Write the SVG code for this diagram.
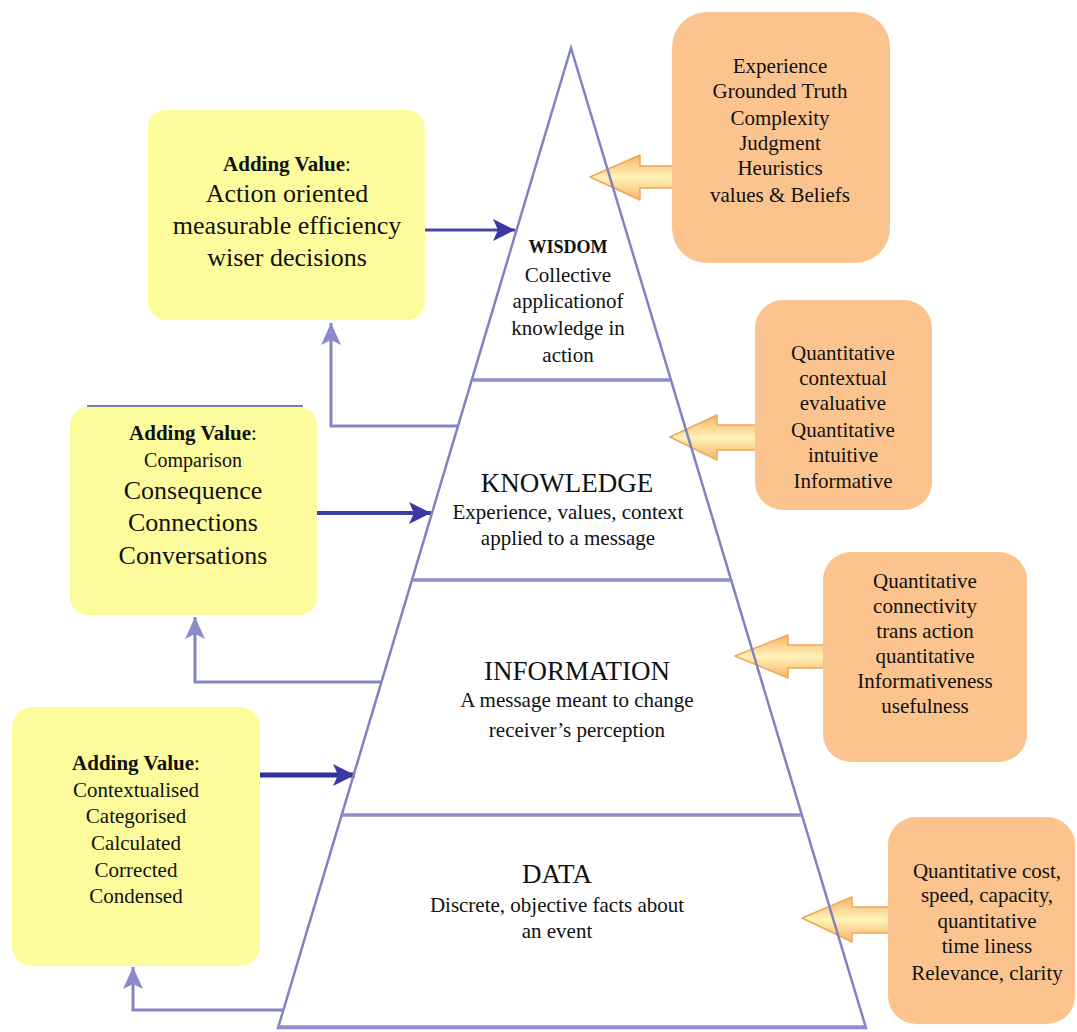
<svg xmlns="http://www.w3.org/2000/svg" width="1077" height="1032" viewBox="0 0 1077 1032">
  <style>
    text { font-family: "Liberation Serif", "Times New Roman", serif; fill: #111; text-anchor: middle; }
    .b { font-weight: bold; }
    .s { font-size: 21px; }
    .l { font-size: 26px; }
    .t { font-size: 27px; }
    .yellow { fill: #fdfc9c; }
    .peach { fill: #fbc48f; }
    .edge { fill: #fff; stroke: #8282c0; stroke-width: 2.5; stroke-linejoin: miter; }
    .tier { stroke: #8e8ecc; stroke-width: 3.5; }
    .fwd { fill: none; }
    .back { fill: none; stroke: #8585c5; stroke-width: 3; }
    .feed { fill: url(#feedFill); stroke: #efa65a; stroke-width: 1.5; stroke-linejoin: round; }
  </style>
  <defs>
    <linearGradient id="feedFill" x1="0" y1="0" x2="0" y2="1">
      <stop offset="0" stop-color="#f7b468"/>
      <stop offset="0.5" stop-color="#fff2b8"/>
      <stop offset="1" stop-color="#f7b468"/>
    </linearGradient>
    <marker id="navyHead" markerUnits="userSpaceOnUse" markerWidth="22" markerHeight="22" refX="22" refY="11" orient="auto">
      <path d="M0,0 L22,11 L0,22 L5,11 z" fill="#3a3aa2"/>
    </marker>
    <marker id="lavHead" markerUnits="userSpaceOnUse" markerWidth="22" markerHeight="20" refX="22" refY="10" orient="auto">
      <path d="M0,0 L22,10 L0,20 L5,10 z" fill="#8a8acc"/>
    </marker>
  </defs>

  <rect width="1077" height="1032" fill="#fff"/>

  <!-- connectors -->
  <g id="connectors">
    <!-- attribute feeds from the right -->
    <polygon class="feed" points="590,177 640,155 640,166 680,166 680,188 640,188 640,200"/>
    <polygon class="feed" points="670,437 717,415 717,425 762,425 762,450 717,450 717,460"/>
    <polygon class="feed" points="735,656 788,635 788,645 830,645 830,668 788,668 788,678"/>
    <polygon class="feed" points="802,918 852,897 852,907 896,907 896,933 852,933 852,942"/>
    <!-- added value flowing into each tier -->
    <path class="fwd" d="M425,230 H515" stroke="#4848a8" stroke-width="3" marker-end="url(#navyHead)"/>
    <path class="fwd" d="M317,513 H431" stroke="#3f3fa0" stroke-width="4" marker-end="url(#navyHead)"/>
    <path class="fwd" d="M260,775 H355" stroke="#30309a" stroke-width="5" marker-end="url(#navyHead)"/>
    <!-- return paths from each tier -->
    <path class="back" d="M458,426 H331 V323" marker-end="url(#lavHead)"/>
    <path class="back" d="M381,682 H195 V617" marker-end="url(#lavHead)"/>
    <path class="back" d="M283,1010 H133 V967" marker-end="url(#lavHead)"/>
  </g>

  <!-- pyramid -->
  <g id="pyramid">
    <polygon class="edge" points="571,48 278,1028 866,1028" fill-opacity="0"/>
    <line class="tier" x1="472" y1="380" x2="670" y2="380"/>
    <line class="tier" x1="412" y1="580" x2="731" y2="580"/>
    <line class="tier" x1="342" y1="815" x2="801" y2="815"/>
    <line class="tier" x1="278" y1="1027" x2="866" y2="1027"/>
  </g>

  <g id="wisdom">
    <text class="b" x="568" y="253" font-size="18">WISDOM</text>
    <text class="s" x="568" y="282">Collective</text>
    <text class="s" x="568" y="308">applicationof</text>
    <text class="s" x="568" y="335">knowledge in</text>
    <text class="s" x="568" y="362">action</text>
  </g>

  <g id="knowledge">
    <text class="t" x="567" y="492">KNOWLEDGE</text>
    <text class="s" x="568" y="519">Experience, values, context</text>
    <text class="s" x="568" y="545">applied to a message</text>
  </g>

  <g id="information">
    <text class="t" x="577" y="680">INFORMATION</text>
    <text class="s" x="577" y="707">A message meant to change</text>
    <text class="s" x="577" y="737">receiver’s perception</text>
  </g>

  <g id="data">
    <text class="t" x="557" y="883">DATA</text>
    <text class="s" x="557" y="912">Discrete, objective facts about</text>
    <text class="s" x="557" y="938">an event</text>
  </g>

  <!-- added value boxes -->
  <g id="value-wisdom">
    <rect class="yellow" x="148" y="110" width="277" height="210" rx="18"/>
    <text class="s" x="287" y="171"><tspan class="b">Adding Value</tspan>:</text>
    <text class="l" x="287" y="202">Action oriented</text>
    <text class="l" x="287" y="234">measurable efficiency</text>
    <text class="l" x="287" y="266">wiser decisions</text>
  </g>

  <g id="value-knowledge">
    <rect class="yellow" x="70" y="407" width="247" height="208" rx="18"/>
    <line x1="87" y1="406" x2="303" y2="406" stroke="#7a7abd" stroke-width="2"/>
    <text class="s" x="193" y="440"><tspan class="b">Adding Value</tspan>:</text>
    <text x="193" y="467" font-size="20">Comparison</text>
    <text class="l" x="193" y="499">Consequence</text>
    <text class="l" x="193" y="531">Connections</text>
    <text class="l" x="193" y="564">Conversations</text>
  </g>

  <g id="value-information">
    <rect class="yellow" x="12" y="707" width="248" height="259" rx="20"/>
    <text class="s" x="136" y="770"><tspan class="b">Adding Value</tspan>:</text>
    <text class="s" x="136" y="797">Contextualised</text>
    <text class="s" x="136" y="823">Categorised</text>
    <text class="s" x="136" y="850">Calculated</text>
    <text class="s" x="136" y="877">Corrected</text>
    <text class="s" x="136" y="903">Condensed</text>
  </g>

  <!-- attribute boxes -->
  <g id="attr-wisdom">
    <rect class="peach" x="672" y="12" width="218" height="251" rx="35"/>
    <text class="s" x="780" y="73">Experience</text>
    <text class="s" x="780" y="98">Grounded Truth</text>
    <text class="s" x="780" y="125">Complexity</text>
    <text class="s" x="780" y="150">Judgment</text>
    <text class="s" x="780" y="175">Heuristics</text>
    <text class="s" x="780" y="202">values &amp; Beliefs</text>
  </g>

  <g id="attr-knowledge">
    <rect class="peach" x="755" y="300" width="177" height="210" rx="28"/>
    <text class="s" x="843" y="360">Quantitative</text>
    <text class="s" x="843" y="385">contextual</text>
    <text class="s" x="843" y="410">evaluative</text>
    <text class="s" x="843" y="437">Quantitative</text>
    <text class="s" x="843" y="462">intuitive</text>
    <text class="s" x="843" y="488">Informative</text>
  </g>

  <g id="attr-information">
    <rect class="peach" x="823" y="552" width="204" height="210" rx="28"/>
    <text class="s" x="925" y="588">Quantitative</text>
    <text class="s" x="925" y="613">connectivity</text>
    <text class="s" x="925" y="638">trans action</text>
    <text class="s" x="925" y="663">quantitative</text>
    <text class="s" x="925" y="688">Informativeness</text>
    <text class="s" x="925" y="713">usefulness</text>
  </g>

  <g id="attr-data">
    <rect class="peach" x="888" y="817" width="187" height="207" rx="28"/>
    <text class="s" x="987" y="878">Quantitative cost,</text>
    <text class="s" x="987" y="902">speed, capacity,</text>
    <text class="s" x="987" y="928">quantitative</text>
    <text class="s" x="987" y="953">time liness</text>
    <text class="s" x="987" y="980">Relevance, clarity</text>
  </g>
</svg>
